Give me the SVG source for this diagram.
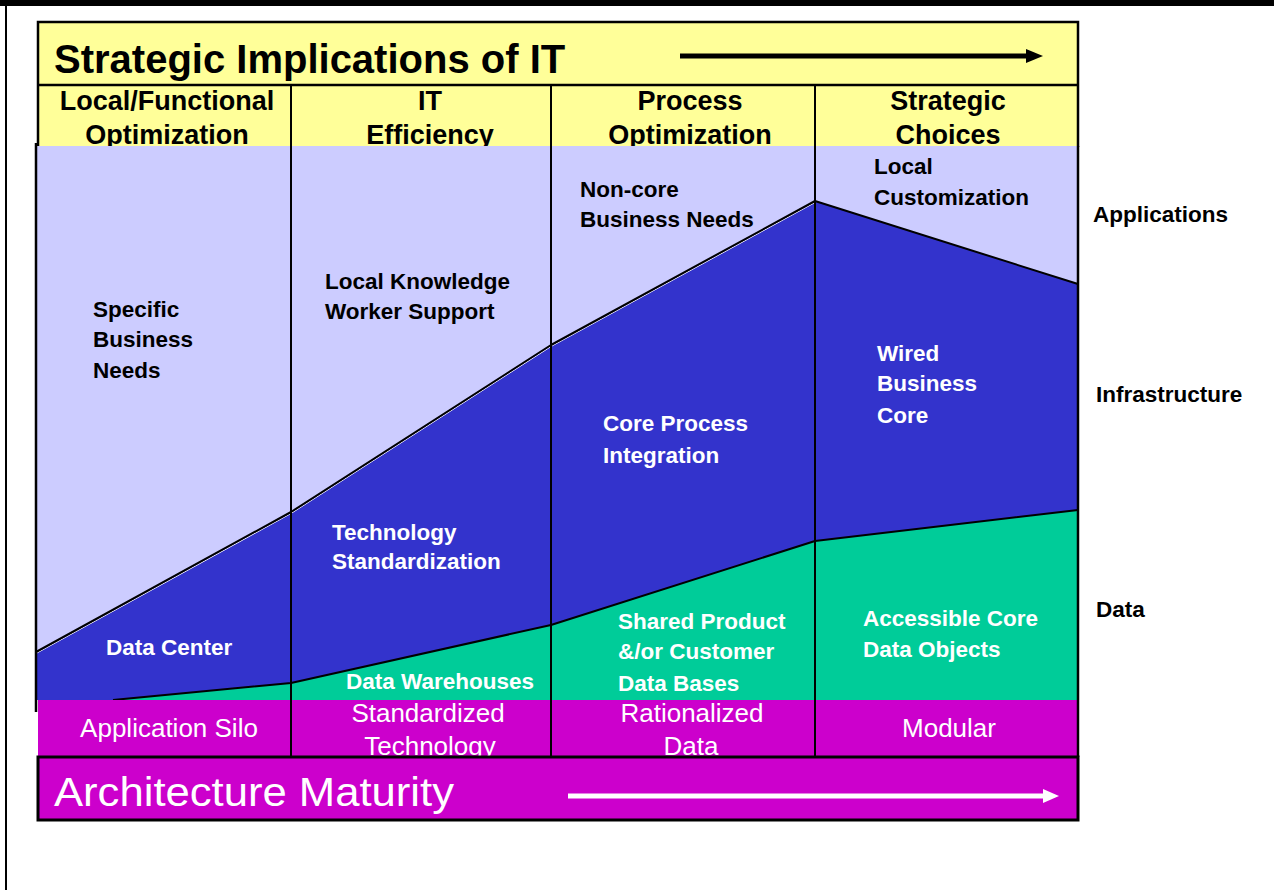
<svg xmlns="http://www.w3.org/2000/svg" width="1274" height="890" viewBox="0 0 1274 890">
<style>
.hd{font-family:"Liberation Sans",Arial,sans-serif;font-weight:bold;font-size:27px;fill:#000;text-anchor:middle}
.ch{font-family:"Liberation Sans",Arial,sans-serif;font-weight:bold;font-size:22.5px;fill:#000}
.cw{font-family:"Liberation Sans",Arial,sans-serif;font-weight:bold;font-size:22.5px;fill:#fff}
.mg{font-family:"Liberation Sans",Arial,sans-serif;font-size:26px;fill:#fff;text-anchor:middle}
.big{font-family:"Liberation Sans",Arial,sans-serif;font-size:40px}
.bd{stroke:#000;stroke-width:2.5;fill:none}
.edge{stroke:#000;stroke-width:2;fill:none;stroke-linejoin:round}
</style>
<defs>
<marker id="headB" markerUnits="userSpaceOnUse" markerWidth="17" markerHeight="14" refX="0" refY="7" orient="auto"><path d="M0,0 L17,7 L0,14 Z" fill="#000"/></marker>
<marker id="headW" markerUnits="userSpaceOnUse" markerWidth="16" markerHeight="14" refX="0" refY="7" orient="auto"><path d="M0,0 L16,7 L0,14 Z" fill="#fff"/></marker>
</defs>
<rect x="0" y="0" width="1274" height="890" fill="#fff"/>
<rect x="0" y="0" width="1274" height="6" fill="#000"/>
<line x1="6" y1="0" x2="6" y2="890" stroke="#000" stroke-width="2"/>

<g id="title">
<rect x="38" y="22" width="1040" height="125" fill="#FFFF99"/>
<path class="bd" d="M38,147 L38,22 L1078,22 L1078,147"/>
<line class="bd" x1="38" y1="85" x2="1078" y2="85"/>
<text class="big" x="54" y="73" font-weight="bold" font-size="39" fill="#000">Strategic Implications of IT</text>
</g>

<g id="header-local"><text class="hd" x="167" y="110">Local/Functional</text><text class="hd" x="167" y="144">Optimization</text></g>
<g id="header-it"><text class="hd" x="430" y="110">IT</text><text class="hd" x="430" y="144">Efficiency</text></g>
<g id="header-process"><text class="hd" x="690" y="110">Process</text><text class="hd" x="690" y="144">Optimization</text></g>
<g id="header-strategic"><text class="hd" x="948" y="110">Strategic</text><text class="hd" x="948" y="144">Choices</text></g>

<g id="chart">
<rect id="applications-area" x="37" y="146" width="1041" height="554" fill="#CCCCFF"/>
<polygon id="infrastructure-area" points="36,652 291,512 551,345 815,201 1078,284 1078,700 36,700" fill="#3333CC"/>
<polygon id="data-area" points="113,700 291,683 551,625 815,541 1078,510 1078,700" fill="#00CC99"/>
<polyline points="36,653.5 291,513.5 551,346.5 815,202.5" fill="none" stroke="#fff" stroke-width="1"/>
<polyline class="edge" points="36,652 291,512 551,345 815,201 1078,284"/>
<polyline class="edge" stroke-width="2.5" points="113,700 291,683 551,625 815,541 1078,510"/>
</g>

<g id="node-specific"><text class="ch" x="93" y="317">Specific</text><text class="ch" x="93" y="347">Business</text><text class="ch" x="93" y="378">Needs</text></g>
<g id="node-local-knowledge"><text class="ch" x="325" y="289">Local Knowledge</text><text class="ch" x="325" y="319">Worker Support</text></g>
<g id="node-noncore"><text class="ch" x="580" y="197">Non-core</text><text class="ch" x="580" y="227">Business Needs</text></g>
<g id="node-local-custom"><text class="ch" x="874" y="174">Local</text><text class="ch" x="874" y="205">Customization</text></g>
<g id="node-data-center"><text class="cw" x="106" y="655">Data Center</text></g>
<g id="node-tech-std"><text class="cw" x="332" y="540">Technology</text><text class="cw" x="332" y="569">Standardization</text></g>
<g id="node-core-process"><text class="cw" x="603" y="431">Core Process</text><text class="cw" x="603" y="463">Integration</text></g>
<g id="node-wired"><text class="cw" x="877" y="361">Wired</text><text class="cw" x="877" y="391">Business</text><text class="cw" x="877" y="423">Core</text></g>
<g id="node-data-warehouses"><text class="cw" x="346" y="689">Data Warehouses</text></g>
<g id="node-shared"><text class="cw" x="618" y="629">Shared Product</text><text class="cw" x="618" y="659">&amp;/or Customer</text><text class="cw" x="618" y="691">Data Bases</text></g>
<g id="node-accessible"><text class="cw" x="863" y="626">Accessible Core</text><text class="cw" x="863" y="657">Data Objects</text></g>

<g id="layer-labels">
<text class="ch" x="1093" y="222">Applications</text>
<text class="ch" x="1096" y="402">Infrastructure</text>
<text class="ch" x="1096" y="617">Data</text>
</g>

<g id="maturity-row">
<rect x="38" y="700" width="1040" height="57" fill="#CC00CC"/>
<text class="mg" x="169" y="737">Application Silo</text>
<text class="mg" x="428" y="722">Standardized</text>
<text class="mg" x="430" y="755">Technology</text>
<text class="mg" x="692" y="722">Rationalized</text>
<text class="mg" x="691" y="755">Data</text>
<text class="mg" x="949" y="737">Modular</text>
</g>

<g id="architecture-bar">
<rect x="38" y="757" width="1040" height="63" fill="#CC00CC" stroke="#000" stroke-width="3"/>
<text class="big" x="54" y="806" fill="#fff" textLength="400" lengthAdjust="spacingAndGlyphs">Architecture Maturity</text>
</g>

<g id="grid">
<line x1="291" y1="85" x2="291" y2="757" stroke="#000" stroke-width="2"/>
<line x1="551" y1="85" x2="551" y2="757" stroke="#000" stroke-width="2"/>
<line x1="815" y1="85" x2="815" y2="757" stroke="#000" stroke-width="2"/>
<line x1="36" y1="143" x2="36" y2="712" stroke="#000" stroke-width="2.5"/>
<line x1="1078" y1="146" x2="1078" y2="757" stroke="#000" stroke-width="2.5"/>
</g>

<g id="connectors">
<line x1="680" y1="56" x2="1026" y2="56" stroke="#000" stroke-width="5" marker-end="url(#headB)"/>
<line x1="568" y1="796" x2="1043" y2="796" stroke="#fff" stroke-width="5" marker-end="url(#headW)"/>
</g>
</svg>
